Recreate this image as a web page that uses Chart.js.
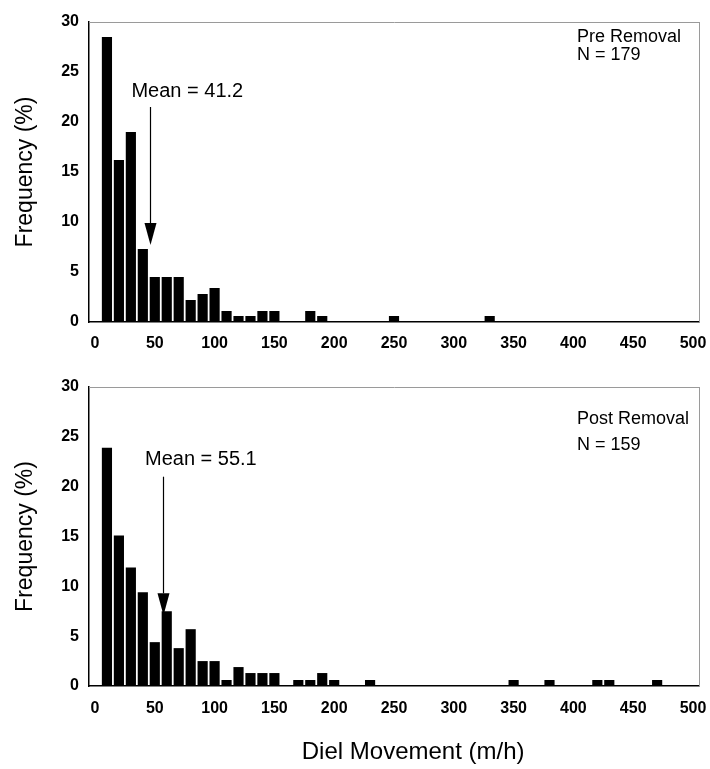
<!DOCTYPE html>
<html>
<head>
<meta charset="utf-8">
<title>Diel movement frequency</title>
<script src="https://cdn.jsdelivr.net/npm/chart.js@4.4.1/dist/chart.umd.min.js"></script>
<style>
    html, body { margin: 0; padding: 0; background: #fff; }
    #wrap { position: relative; width: 710px; height: 769px; }
    .panel { position: absolute; left: 0; width: 710px; }
</style>
</head>
<body>
<div id="wrap">
    <div class="panel" style="top:0;height:365px"><canvas id="preChart"></canvas></div>
    <div class="panel" style="top:365px;height:404px"><canvas id="postChart"></canvas></div>
</div>
<script>
// Pre removal (N = 179): bin centre (m/h) and frequency (%)
const preBins = [10, 20, 30, 40, 50, 60, 70, 80, 90, 100, 110, 120, 130, 140, 150, 180, 190, 250, 330];
const preFreq = [28.5, 16.2, 19.0, 7.3, 4.5, 4.5, 4.5, 2.2, 2.8, 3.4, 1.1, 0.6, 0.6, 1.1, 1.1, 1.1, 0.6, 0.6, 0.6];

// Post removal (N = 159)
const postBins = [10, 20, 30, 40, 50, 60, 70, 80, 90, 100, 110, 120, 130, 140, 150, 170, 180, 190, 200, 230, 350, 380, 420, 430, 470];
const postFreq = [23.9, 15.1, 11.9, 9.4, 4.4, 7.5, 3.8, 5.7, 2.5, 2.5, 0.6, 1.9, 1.3, 1.3, 1.3, 0.6, 0.6, 1.3, 0.6, 0.6, 0.6, 0.6, 0.6, 0.6, 0.6];

const xTicks = [0, 50, 100, 150, 200, 250, 300, 350, 400, 450, 500];
const yTicks = [0, 5, 10, 15, 20, 25, 30];

const preLabel = ['Pre Removal', 'N = 179'];
const postLabel = ['Post Removal', 'N = 159'];
const preMean = 'Mean = 41.2';
const postMean = 'Mean = 55.1';
const xTitle = 'Diel Movement (m/h)';
const yTitle = 'Frequency (%)';

const FONT = '"Liberation Sans", Arial, Helvetica, sans-serif';

// mean label + arrow, panel label, and x title (bottom panel only)
const panelNotes = {
    id: 'panelNotes',
    afterDatasetsDraw(chart, args, o) {
        const ctx = chart.ctx;
        const xs = chart.scales.x, ys = chart.scales.y;
        const px = v => xs.getPixelForValue(v);
        const py = v => ys.getPixelForValue(v);
        ctx.save();
        ctx.fillStyle = '#000';
        ctx.strokeStyle = '#000';
        ctx.textAlign = 'left';
        ctx.textBaseline = 'alphabetic';

        ctx.font = '20px ' + FONT;
        ctx.fillText(o.mean, px(o.meanAt[0]), py(o.meanAt[1]));

        const ax = Math.round(px(o.arrow.x)) + 0.5;
        const yh = py(o.arrow.head);
        ctx.lineWidth = 1.2;
        ctx.beginPath();
        ctx.moveTo(ax, py(o.arrow.from));
        ctx.lineTo(ax, yh);
        ctx.stroke();
        ctx.beginPath();
        ctx.moveTo(ax - 6, yh);
        ctx.lineTo(ax + 6, yh);
        ctx.lineTo(ax, py(o.arrow.to));
        ctx.closePath();
        ctx.fill();

        ctx.font = '18px ' + FONT;
        o.label.forEach((t, i) => ctx.fillText(t, px(o.labelAt[0]), py(o.labelAt[1][i])));

        if (o.xTitle) {
            ctx.font = '24px ' + FONT;
            ctx.textAlign = 'center';
            ctx.textBaseline = 'middle';
            ctx.fillText(o.xTitle, px(o.xTitleAt), chart.chartArea.bottom + o.xTitleDy);
        }
        ctx.restore();
    }
};

function makePanel(id, bins, freq, notes, xAxisHeight, tickPad) {
    const frame = { display: true, color: '#9a9a9a', width: 1, dash: [3, 2] };
    return new Chart(document.getElementById(id), {
        type: 'bar',
        data: {
            datasets: [{
                data: bins.map((b, i) => ({ x: b, y: freq[i] })),
                backgroundColor: '#000',
                borderWidth: 0,
                barPercentage: 0.85,
                categoryPercentage: 1
            }]
        },
        plugins: [panelNotes],
        options: {
            responsive: true,
            maintainAspectRatio: false,
            animation: false,
            layout: { padding: { top: 22, right: 11, left: 0, bottom: 0 } },
            plugins: {
                legend: { display: false },
                tooltip: { enabled: false },
                panelNotes: notes
            },
            scales: {
                x: {
                    type: 'linear',
                    min: -5,
                    max: 505,
                    offset: false,
                    afterBuildTicks: s => { s.ticks = xTicks.map(v => ({ value: v })); },
                    afterFit: s => { s.height = xAxisHeight; s.paddingLeft = 0; s.paddingRight = 0; },
                    grid: { display: false, drawTicks: false },
                    border: { display: true, color: '#000', width: 1.5 },
                    ticks: { color: '#000', padding: tickPad, maxRotation: 0, font: { family: FONT, size: 16, weight: 'bold' } }
                },
                y: {
                    min: 0,
                    max: 30,
                    afterBuildTicks: s => { s.ticks = yTicks.map(v => ({ value: v })); },
                    afterFit: s => { s.width = 89; s.paddingTop = 0; s.paddingBottom = 0; },
                    grid: { display: false, drawTicks: false },
                    border: { display: true, color: '#000', width: 1.5 },
                    ticks: { color: '#000', padding: 10, font: { family: FONT, size: 16, weight: 'bold' } },
                    title: { display: true, text: yTitle, color: '#000', padding: { top: 12, bottom: 0 }, font: { family: FONT, size: 23 } }
                },
                xTop: {
                    type: 'linear', position: 'top', min: -5, max: 505, offset: false,
                    afterFit: s => { s.height = 0; },
                    grid: { display: false, drawTicks: false }, ticks: { display: false }, border: frame
                },
                yRight: {
                    position: 'right', min: 0, max: 30,
                    afterFit: s => { s.width = 0; },
                    grid: { display: false, drawTicks: false }, ticks: { display: false }, border: frame
                }
            }
        }
    });
}

makePanel('preChart', preBins, preFreq, {
    mean: preMean, meanAt: [30.5, 22.5],
    arrow: { x: 46, from: 21.5, head: 9.9, to: 7.7 },
    label: preLabel, labelAt: [403, [28.0, 26.2]]
}, 43, 12);

makePanel('postChart', postBins, postFreq, {
    mean: postMean, meanAt: [41.8, 22.2],
    arrow: { x: 57, from: 21.0, head: 9.3, to: 7.1 },
    label: postLabel, labelAt: [403, [26.3, 23.7]],
    xTitle: xTitle, xTitleAt: 266, xTitleDy: 66
}, 83, 13);
</script>
</body>
</html>
